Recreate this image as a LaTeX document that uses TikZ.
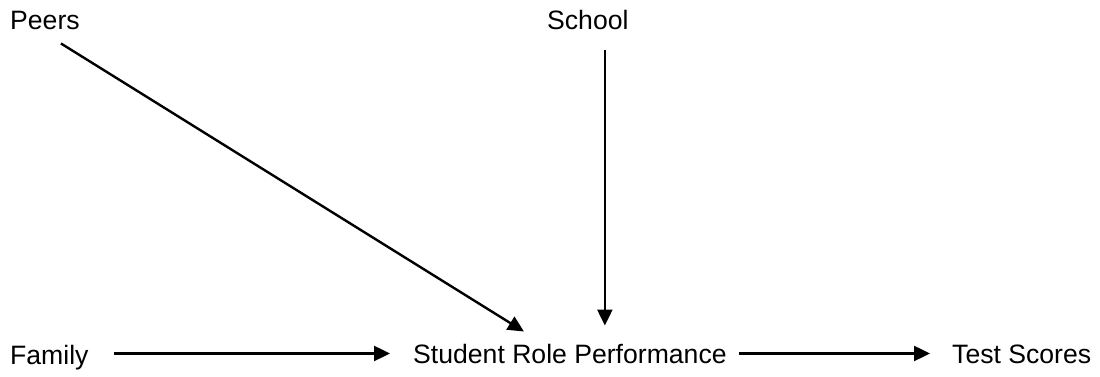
\documentclass[tikz,border=0pt]{standalone}
\usepackage{fontspec}
\setmainfont{Liberation Sans}
\usetikzlibrary{arrows.meta}
\begin{document}
\begin{tikzpicture}[x=1pt, y=-1pt, font=\fontsize{26.6}{31}\selectfont,
    every node/.style={inner sep=0pt, anchor=base west},
    link/.style={-{Triangle[length=16pt, width=15pt]}, line width=2.4pt}]
  \useasboundingbox (0, 0) rectangle (1100, 377);
  % Nodes
  \node (peers) at (10, 30) {Peers};
  \node (school) at (547, 30) {School};
  \node (family) at (10, 364) {Family};
  \node (srp) at (413, 363) {Student Role Performance};
  \node (test) at (952, 363) {Test Scores};
  % Arrows
  \draw[link] ([xshift=16pt, yshift=-13pt]peers.south) -- ([xshift=-46pt, yshift=12pt]srp.north);
  \draw[link, shorten <=20pt, shorten >=18pt] ([xshift=17pt]school.south) -- ([xshift=17pt]school.south |- srp.north);
  \draw[link, shorten <=25pt, shorten >=23pt] (family.east |- srp.west) -- (srp.west);
  \draw[link, shorten <=12pt, shorten >=22pt] (srp.east) -- (srp.east -| test.west);
\end{tikzpicture}
\end{document}
